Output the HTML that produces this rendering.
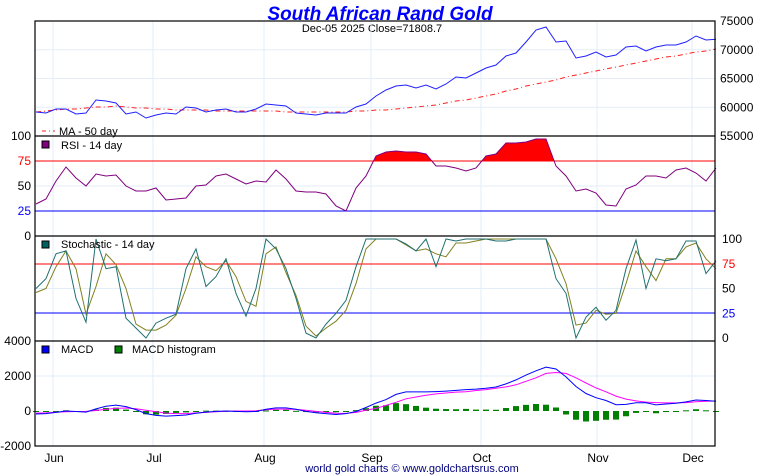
<!DOCTYPE html>
<html><head><meta charset="utf-8"><style>
html,body{margin:0;padding:0;background:#fff;}
svg{display:block;font-family:"Liberation Sans",sans-serif;}
</style></head><body>
<svg id="chart" width="760" height="475" viewBox="0 0 760 475" xmlns="http://www.w3.org/2000/svg">
<text x="380" y="20" text-anchor="middle" font-size="19" font-weight="bold" font-style="italic" fill="#0000ff">South African Rand Gold</text>
<text x="372" y="32" text-anchor="middle" font-size="11" fill="#000">Dec-05  2025  Close=71808.7</text>
<g id="grid"></g>
<g id="marks"></g>
<g id="frame"></g>
<g id="labels"></g>
<text x="412" y="472" text-anchor="middle" font-size="11" fill="#000080">world gold charts © www.goldchartsrus.com</text>
</svg>
<script>
const price = [59180,59000,59700,59700,58830,59000,61260,61090,60740,58830,59180,58130,58650,59000,58830,60040,59870,59180,59520,59700,59180,59180,59700,60570,60390,60220,59000,58830,58650,59000,59000,59000,60040,60570,61960,63000,63700,63870,63350,63870,63170,64040,65260,65090,65960,66830,67350,68910,69440,71350,73430,73960,71350,71520,68560,68910,69610,68740,69090,70480,70650,69780,70480,70830,70830,71350,72390,71700,71810];
const ma50 = [59180,59350,59520,59700,59700,59870,60040,60040,60220,60040,59870,59870,59700,59700,59520,59520,59520,59520,59350,59350,59350,59350,59350,59350,59350,59180,59180,59180,59180,59180,59180,59180,59350,59350,59520,59520,59700,59870,60040,60220,60390,60740,61090,61260,61610,61960,62300,62830,63170,63700,64040,64390,64740,65260,65610,65960,66300,66650,67000,67350,67700,68040,68390,68740,68910,69260,69610,69780,70130];
const rsi = [32,37,55,69,58,50,62,60,61,50,45,45,48,36,37,38,50,51,60,62,57,52,55,54,66,57,45,44,44,42,30,25,48,60,80,84,85,84,84,82,70,70,68,65,68,80,82,93,93,94,97,97,70,60,45,47,43,31,30,47,51,60,60,58,66,68,63,55,68];
const stochK = [50,60,85,88,40,16,100,70,72,20,10,0,15,20,24,70,90,52,62,80,45,22,50,100,90,70,40,5,0,14,25,38,72,100,100,100,100,95,88,100,72,100,98,100,100,100,98,98,100,100,100,100,60,45,0,21,31,18,28,70,99,50,80,78,80,98,98,65,78];
const stochD = [46,50,72,88,70,24,52,85,74,50,14,8,8,13,23,50,82,72,68,78,62,37,32,85,92,66,43,12,2,10,17,28,55,90,100,100,100,94,88,90,85,82,96,96,98,100,100,100,100,100,100,100,80,55,13,15,28,24,25,55,88,72,58,80,80,92,96,80,70];
const macd = [-170,-150,-80,0,-30,-60,120,270,340,250,80,-150,-250,-290,-260,-230,-130,-60,-20,0,-20,-40,-30,100,180,180,100,-20,-100,-150,-200,-150,-30,200,450,650,950,1090,1090,1090,1110,1140,1180,1220,1250,1300,1370,1550,1780,2050,2300,2510,2400,1950,1400,1000,760,600,360,380,470,470,350,400,440,520,630,600,560];
const signal = [-120,-110,-70,-40,-30,-20,30,100,150,170,130,40,-40,-120,-150,-150,-110,-80,-40,-10,0,0,10,70,110,110,90,40,-20,-80,-130,-140,-80,40,150,320,500,700,800,900,980,1030,1080,1100,1170,1220,1300,1380,1500,1700,1900,2150,2200,2150,1900,1600,1320,1100,850,680,580,510,480,460,460,480,530,560,570];
const hist = [-50,-40,-10,40,0,-40,90,170,190,80,-50,-190,-210,-170,-110,-80,-20,20,20,10,-20,-40,-40,30,70,70,10,-60,-80,-70,-70,-10,50,160,300,330,450,390,290,190,130,110,100,120,80,80,70,170,280,350,400,360,200,-200,-500,-600,-560,-500,-490,-300,-110,-40,-130,-60,-20,40,100,40,-10];
const months = ["Jun","Jul","Aug","Sep","Oct","Nov","Dec"];
const monthPos = [1.7,11.7,22.8,33.5,44.5,56.1,65.6]; // in sample index units
const priceTicks = [75000,70000,65000,60000,55000];
const oscTicks = [100,75,50,25,0];
const macdTicks = [4000,2000,0,-2000];

const NS="http://www.w3.org/2000/svg";
const L=35,R=715;
const X=i=>36+i*10;
const yPrice=v=>21+(75000-v)/20000*115;
const yRsi=v=>136+(100-v);
const ySto=v=>338-v*0.99;
const yMacd=v=>411-v/1000*17.5;
function mk(parent,tag,attrs){const e=document.createElementNS(NS,tag);for(const k in attrs)e.setAttribute(k,attrs[k]);document.getElementById(parent).appendChild(e);return e;}
function line(parent,x1,y1,x2,y2,c,w,extra){return mk(parent,'line',Object.assign({x1,y1,x2,y2,stroke:c,'stroke-width':w||1},extra||{}));}
function poly(arr,yf){return 'M'+arr.map((v,i)=>X(i).toFixed(1)+','+yf(v).toFixed(1)).join('L');}

const GC="#e3eef9";
monthPos.forEach(m=>{const g=line('grid',X(m),21,X(m),446,GC,1);

});
[70000,65000,60000].forEach(v=>{const g=line('grid',L,yPrice(v),R,yPrice(v),GC,1);

});
[yRsi(50),ySto(50),yMacd(2000)].forEach(y=>{const g=line('grid',L,y,R,y,GC,1);

});

let p=mk('marks','path',{d:poly(ma50,yPrice),fill:'none',stroke:'#ff2020','stroke-width':1,'stroke-dasharray':'5,3,1,3'});


p=mk('marks','path',{d:poly(price,yPrice),fill:'none',stroke:'#2020ff','stroke-width':1});



const clip=mk('marks','clipPath',{id:'rsiclip'});
const cr=document.createElementNS(NS,'rect');cr.setAttribute('x',L);cr.setAttribute('y',136);cr.setAttribute('width',R-L);cr.setAttribute('height',yRsi(75)-136);clip.appendChild(cr);
p=mk('marks','path',{d:poly(rsi,yRsi)+'L'+X(rsi.length-1)+','+yRsi(75)+'L'+X(0)+','+yRsi(75)+'Z',fill:'#ff0000',stroke:'none','clip-path':'url(#rsiclip)'});


p=line('marks',L,yRsi(75),R,yRsi(75),'#ff0000',1);


p=line('marks',L,yRsi(25),R,yRsi(25),'#0000ff',1);


p=mk('marks','path',{d:poly(rsi,yRsi),fill:'none',stroke:'#800080','stroke-width':1});



p=line('marks',L,264,R,264,'#ff0000',1);


p=line('marks',L,313,R,313,'#0000ff',1);


p=mk('marks','path',{d:poly(stochD,ySto),fill:'none',stroke:'#808020','stroke-width':1});


p=mk('marks','path',{d:poly(stochK,ySto),fill:'none',stroke:'#207070','stroke-width':1});



hist.forEach((v,i)=>{const y0=yMacd(0),y1=yMacd(v);
const r=mk('marks','rect',{x:X(i)-3,y:Math.min(y0,y1),width:6,height:Math.max(1,Math.abs(y1-y0)),fill:'#008000'});

});
p=mk('marks','path',{d:poly(signal,yMacd),fill:'none',stroke:'#ff00ff','stroke-width':1});


p=mk('marks','path',{d:poly(macd,yMacd),fill:'none',stroke:'#0000ff','stroke-width':1});



p=mk('frame','rect',{x:L,y:21,width:R-L,height:425,fill:'none',stroke:'#000','stroke-width':1.2});


[136,236,341].forEach(y=>{const s=line('frame',L,y,R,y,'#000',1.2);

});

function txt(x,y,s,anchor,color,size,name){const t=mk('labels','text',{x,y,'text-anchor':anchor,fill:color||'#000','font-size':size||12});t.textContent=s;

return t;}
priceTicks.forEach(v=>txt(720,yPrice(v)+4,String(v),'start','#000',12,'price-tick-label'));
const oscCol=['#000','#ff0000','#000','#0000ff','#000'];
oscTicks.forEach((v,k)=>txt(31,yRsi(v)+4,String(v),'end',oscCol[k],12,'rsi-tick-label'));
oscTicks.forEach((v,k)=>txt(722,239+(100-v)*0.99+4,String(v),'start',oscCol[k],12,'stoch-tick-label'));
macdTicks.forEach(v=>txt(31,yMacd(v)+4,String(v),'end','#000',12,'macd-tick-label'));
months.forEach((m,k)=>txt(X(monthPos[k])+1,462,m,'middle','#000',12,'month-label'));

function sq(x,y,c,name){const r=mk('labels','rect',{x,y,width:7,height:7,fill:c,stroke:'#000','stroke-width':1});

}
p=line('labels',42,131,55,131,'#ff2020',1,{'stroke-dasharray':'4,3,1,3'});


txt(59,135,'MA - 50 day','start','#000',11,'ma-legend-label');
sq(42,141,'#800080','rsi-legend-swatch');
txt(61,149,'RSI - 14 day','start','#000',11,'rsi-legend-label');
sq(42,241,'#006060','stoch-legend-swatch');
txt(61,248,'Stochastic - 14 day','start','#000',11,'stoch-legend-label');
sq(42,346,'#0000ff','macd-legend-swatch');
txt(61,353,'MACD','start','#000',11,'macd-legend-label');
sq(115,346,'#008000','histogram-legend-swatch');
txt(132,353,'MACD histogram','start','#000',11,'histogram-legend-label');
</script>
</body></html>
